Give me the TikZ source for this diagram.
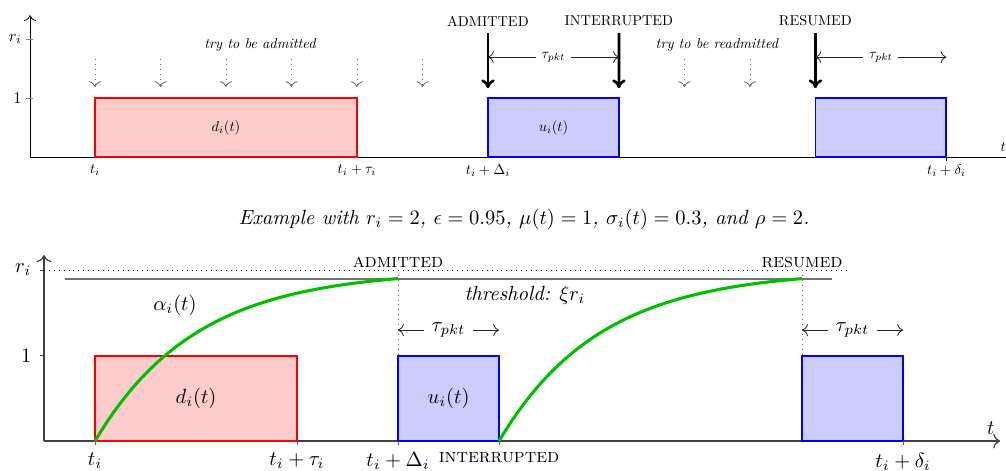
\documentclass[tikz,border=0pt]{standalone}
\usepackage{amsmath}
\usepackage{amssymb}
\usepackage{xcolor}
\usepackage{tikz}
\usetikzlibrary{arrows.meta}

\begin{document}
\begin{tikzpicture}[x=1mm,y=1mm,
  rbox/.style={draw=red, fill=red!20, line width=0.9pt, anchor=south west, inner sep=0pt, outer sep=0pt},
  bbox/.style={draw=blue, fill=blue!20, line width=0.9pt, anchor=south west, inner sep=0pt, outer sep=0pt},
  sm/.style={scale=0.7, transform shape},
  evt/.style={font=\fontsize{9.5}{11}\selectfont\scshape},
  try/.style={-{To[length=1mm]}, dotted, draw=black!60},
  big/.style={-{To[length=1.5mm,width=2.3mm]}, line width=1.3pt},
  span/.style={{To[length=1mm]}-{To[length=1mm]}, draw=black!85},
  tag/.style={fill=white, inner sep=1mm},
  guide/.style={dotted, draw=black!60},
  axis/.style={-{To[length=1.2mm]}, draw=black!75, line width=0.6pt},
  alpha/.style={draw=green!75!black, line width=1.5pt},
]
\useasboundingbox (0,0) rectangle (172.5,80.6);
% --- upper picture: axes
\draw[-{To[length=1mm]}] (5.14,53.67) -- (5.14,78.0);
\draw (5.14,53.67) -- (172.5,53.67);
\node[sm] (tt) at (172.0,55.4) {$t$};
\draw[black!50] (4.54,73.9) -- (5.74,73.9);
\draw[black!50] (4.54,63.79) -- (5.74,63.79);
\node[left, scale=0.8, transform shape] (ri1) at (4.7,73.9) {$r_i$};
\node[left, scale=0.8, transform shape] (one1) at (4.7,63.79) {$1$};
% upper picture: requests
\node[rbox, minimum width=44.92mm, minimum height=10.12mm] (d1) at (16.29,53.67) {};
\node[bbox, minimum width=22.46mm, minimum height=10.12mm] (u1) at (83.67,53.67) {};
\node[bbox, minimum width=22.46mm, minimum height=10.12mm] (u2) at (139.82,53.67) {};
\node[sm] (d1t) at (d1.center) {$d_i(t)$};
\node[sm] (u1t) at (u1.center) {$u_i(t)$};
\foreach \x in {16.29,27.52,38.75,49.98,61.21,72.44,117.36,128.59}
  \draw[try] (\x,70.47) -- (\x,65.67);
\node[sm, font=\itshape] (try1) at (44.58,72.87) {try to be admitted};
\node[sm, font=\itshape] (try2) at (122.94,72.87) {try to be readmitted};
% upper picture: events
\node[sm] (adm1) at (83.67,77.0) {ADMITTED};
\node[sm] (int1) at (106.13,77.0) {INTERRUPTED};
\node[sm] (res1) at (139.82,77.0) {RESUMED};
\draw[big] (83.67,74.93) -- ([yshift=1.7mm]u1.north west);
\draw[big] (106.13,74.93) -- ([yshift=1.7mm]u1.north east);
\draw[big] (139.82,74.93) -- ([yshift=1.7mm]u2.north west);
\draw[span] (83.67,70.8) -- node[tag, sm, inner sep=1.4mm] {$\tau_{pkt}$} (106.13,70.8);
\draw[span] (139.82,70.8) -- node[tag, sm, inner sep=1.4mm] {$\tau_{pkt}$} (162.28,70.8);
% upper picture: time labels
\draw (162.28,53.67) -- (162.28,53.0);
\node[sm, below] (a0) at (16.29,53.2) {$t_i$};
\node[sm, below] (a1) at (61.21,53.2) {$t_i+\tau_i$};
\node[sm, below] (a2) at (83.67,53.2) {$t_i+\Delta_i$};
\node[sm, below] (a3) at (162.28,53.2) {$t_i+\delta_i$};
% caption
\node[font=\itshape] (cap) at (89.85,43.04) {Example with $r_i=2$, $\epsilon=0.95$, $\mu(t)=1$, $\sigma_i(t)=0.3$, and $\rho=2$.};
% --- lower picture: axes
\draw[axis] (7.54,4.97) -- (7.54,36.87);
\draw[axis] (7.54,4.97) -- (171.5,4.97);
\node (t2) at (169.9,7.2) {$t$};
\draw[black!75] (6.8,34.3) -- (7.54,34.3);
\draw[black!75] (6.8,19.63) -- (7.54,19.63);
\node[left] (ri2) at (6.6,34.3) {$r_i$};
\node[left] (one2) at (6.6,19.63) {$1$};
\draw[dotted] (7.54,34.3) -- (145.75,34.3);
\draw[draw=black!55, line width=0.8pt] (11.15,32.75) -- (142.66,32.75);
\node (thr) at (90.0,30.0) {\textit{threshold:} $\xi r_i$};
% lower picture: requests
\node[rbox, minimum width=34.64mm, minimum height=14.66mm, line width=1pt] (d2) at (16.29,4.97) {$d_i(t)$};
\node[bbox, minimum width=17.32mm, minimum height=14.66mm, line width=1pt] (u3) at (68.25,4.97) {$u_i(t)$};
\node[bbox, minimum width=17.32mm, minimum height=14.66mm, line width=1pt] (u4) at (137.53,4.97) {};
% lower picture: admission curve
\draw[alpha] plot[domain=0:3, samples=50] ({16.29+17.32*\x},{4.97+29.32*(1-exp(-\x))});
\draw[alpha] plot[domain=4:7, samples=50] ({16.29+17.32*\x},{4.97+29.32*(1-exp(4-\x))});
\node (al) at (30.0,28.3) {$\alpha_i(t)$};
% lower picture: events
\coordinate (radm) at (68.25,34.3);
\coordinate (rres) at (137.53,34.3);
\node[above, evt, inner sep=0.8pt] (adm2) at (radm) {admitted};
\node[above, evt, inner sep=0.8pt] (res2) at (rres) {resumed};
\draw[guide] (radm) -- (u3.north west);
\draw[guide] (rres) -- (u4.north west);
\draw[span] (68.25,24.0) -- node[tag, inner sep=1.3mm] {$\tau_{pkt}$} (85.57,24.0);
\draw[span] (137.53,24.0) -- node[tag, inner sep=1.3mm] {$\tau_{pkt}$} (154.85,24.0);
% lower picture: time labels
\foreach \x in {16.29,50.93,68.25,85.57,154.85}
  \draw[black!60] (\x,4.97) -- (\x,4.3);
\node[below] (b0) at (16.29,4.2) {$t_i$};
\node[below] (b1) at (50.93,4.2) {$t_i+\tau_i$};
\node[below] (b2) at (68.25,4.2) {$t_i+\Delta_i$};
\node[evt] (int2) at (85.57,2.06) {interrupted};
\node[below] (b3) at (154.85,4.2) {$t_i+\delta_i$};
\end{tikzpicture}
\end{document}
